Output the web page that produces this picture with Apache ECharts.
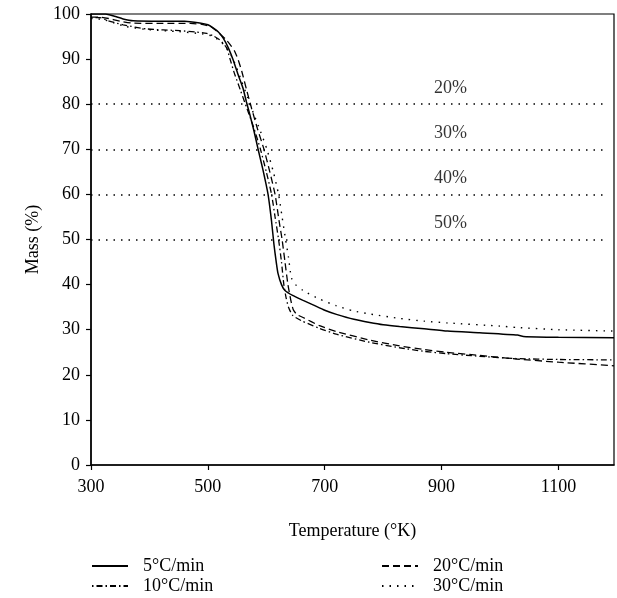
<!DOCTYPE html>
<html>
<head>
<meta charset="utf-8">
<script src="https://cdn.jsdelivr.net/npm/echarts@6/dist/echarts.min.js"></script>
<style>
  html, body { margin: 0; padding: 0; background: #fff; }
  #chart { width: 617px; height: 598px; }
</style>
</head>
<body>
<div id="chart"></div>
<script>
// TGA mass loss curves, [temperature K, mass %]
var rate5 = [
    [300, 100], [325, 100], [340, 99.5], [355, 98.9], [372, 98.5], [420, 98.4], [460, 98.4],
    [486, 98.0], [500, 97.6], [509, 96.9], [518, 96.0], [526, 94.7], [535, 92.5], [543, 89.9],
    [551, 86.8], [560, 83.6], [566, 80.5], [572, 77.6], [579, 74], [586, 70], [594, 65.6],
    [603, 60], [609, 54], [613, 49], [617, 45], [620, 42.5], [626, 40], [632, 38.7],
    [645, 37.6], [663, 36.5], [680, 35.5], [700, 34.3], [720, 33.4], [750, 32.3], [777, 31.6],
    [800, 31.1], [828, 30.7], [870, 30.2], [910, 29.7], [965, 29.3], [1030, 28.8], [1040, 28.5],
    [1100, 28.3], [1195, 28.2]
];
var rate10 = [
    [300, 99.2], [315, 99.2], [330, 98.5], [355, 97.6], [395, 96.7], [452, 96.3], [480, 96.0],
    [498, 95.7], [510, 95.1], [520, 94.3], [532, 92.5], [538, 90], [545, 87.0], [556, 83],
    [567, 79], [578, 75], [590, 70], [600, 65], [609, 60], [615, 55], [621, 50], [626, 45],
    [630, 40], [634, 37], [638, 35], [645, 33.2], [660, 32], [691, 30.3], [720, 29.0],
    [777, 27.2], [828, 26.0], [870, 25.2], [908, 24.7], [965, 24.1], [1028, 23.6],
    [1100, 23.4], [1195, 23.3]
];
var rate20 = [
    [300, 99.3], [315, 99.3], [330, 99.0], [350, 98.4], [370, 98.0], [420, 97.9], [470, 97.9],
    [490, 97.7], [505, 97.2], [515, 96.2], [524, 95.2], [532, 94.2], [540, 92.9], [546, 91.7],
    [552, 89.8], [558, 87.3], [566, 83.3], [575, 79], [585, 74.5], [596, 70], [606, 65],
    [615, 60], [622, 54], [627, 50], [632, 45], [637, 40], [642, 36.5], [646, 34.5],
    [652, 33.4], [663, 32.7], [691, 30.9], [720, 29.6], [777, 27.7], [828, 26.4], [870, 25.6],
    [908, 25.0], [965, 24.3], [1028, 23.5], [1100, 22.8], [1195, 22.0]
];
var rate30 = [
    [300, 99.0], [320, 98.8], [340, 98.0], [360, 97.2], [400, 96.5], [450, 96.1], [490, 95.6],
    [505, 95.2], [518, 94.3], [530, 92.8], [540, 90.8], [548, 88.5], [558, 85], [568, 81.5],
    [578, 78], [590, 74], [601, 70], [612, 65], [621, 60], [627, 55], [633, 50], [638, 46],
    [643, 41.5], [650, 40.0], [663, 38.7], [691, 36.8], [720, 35.3], [748, 34.2], [777, 33.5],
    [828, 32.5], [870, 31.9], [910, 31.5], [1000, 30.8], [1028, 30.5], [1100, 30.0],
    [1195, 29.7]
];

var seriesNames = ['5°C/min', '10°C/min', '20°C/min', '30°C/min'];

// dotted mass-loss levels with their labels
var refLevels = [80, 70, 60, 50];
var refLabels = ['20%', '30%', '40%', '50%'];
var refStart = 300;
var refEnd = 1184;
var refLabelT = 915;

var font = 'Liberation Serif';
var chart = echarts.init(document.getElementById('chart'));

function curve(name, data, type, width) {
    return {
        name: name,
        type: 'line',
        data: data,
        symbol: 'none',
        smooth: 0.2,
        lineStyle: { color: '#000', width: width, type: type },
        itemStyle: { color: '#000' },
        z: 3
    };
}

// one legend per entry, laid out as two columns under the axis
function legendAt(name, left, top) {
    return {
        data: [name],
        left: left,
        top: top,
        padding: 0,
        itemWidth: 36,
        itemHeight: 12,
        itemStyle: { opacity: 0 },
        textStyle: { fontFamily: font, fontSize: 18, color: '#000', padding: [0, 0, 0, 10] }
    };
}

chart.setOption({
    animation: false,
    backgroundColor: '#fff',
    textStyle: { fontFamily: font, color: '#000' },
    grid: {
        left: 91, right: 3, top: 14, bottom: 133,
        show: true, borderColor: '#000', borderWidth: 1.2, backgroundColor: 'transparent'
    },
    legend: [
        legendAt(seriesNames[0], 91, 557),
        legendAt(seriesNames[1], 91, 577),
        legendAt(seriesNames[2], 381, 557),
        legendAt(seriesNames[3], 381, 577)
    ],
    xAxis: {
        type: 'value',
        min: 300,
        max: 1195,
        interval: 200,
        name: 'Temperature (°K)',
        nameLocation: 'middle',
        nameGap: 57,
        nameTextStyle: { fontFamily: font, fontSize: 18, color: '#000' },
        axisLine: { lineStyle: { color: '#000', width: 1.5 } },
        axisTick: { inside: false, length: 5, lineStyle: { color: '#000', width: 1.2 } },
        axisLabel: {
            fontFamily: font, fontSize: 18, color: '#000', margin: 13, showMaxLabel: false,
            formatter: function (v) { return String(v); }
        },
        splitLine: { show: false }
    },
    yAxis: {
        type: 'value',
        min: 0,
        max: 100,
        interval: 10,
        name: 'Mass (%)',
        nameLocation: 'middle',
        nameGap: 42,
        nameTextStyle: { fontFamily: font, fontSize: 18, color: '#000' },
        axisLine: { show: true, lineStyle: { color: '#000', width: 1.5 } },
        axisTick: { show: true, inside: false, length: 5, lineStyle: { color: '#000', width: 1.2 } },
        axisLabel: { fontFamily: font, fontSize: 18, color: '#000', margin: 11 },
        splitLine: { show: false }
    },
    series: [
        curve(seriesNames[0], rate5, 'solid', 1.5),
        curve(seriesNames[1], rate10, [1.5, 3, 6, 3], 1.3),
        curve(seriesNames[2], rate20, [7, 4], 1.3),
        curve(seriesNames[3], rate30, [1.5, 6], 1.4),
        {
            // reference levels and their text
            type: 'scatter',
            data: refLevels.map(function (v) { return [refLabelT, v]; }),
            symbolSize: 0,
            silent: true,
            label: {
                show: true,
                position: 'top',
                distance: 7,
                fontFamily: font,
                fontSize: 18,
                color: '#000',
                formatter: function (p) { return refLabels[p.dataIndex]; }
            },
            markLine: {
                silent: true,
                symbol: 'none',
                label: { show: false },
                lineStyle: { color: '#000', width: 1.5, type: [1.5, 6] },
                data: refLevels.map(function (v) {
                    return [{ coord: [refStart, v] }, { coord: [refEnd, v] }];
                })
            },
            z: 2
        }
    ]
});
</script>
</body>
</html>
